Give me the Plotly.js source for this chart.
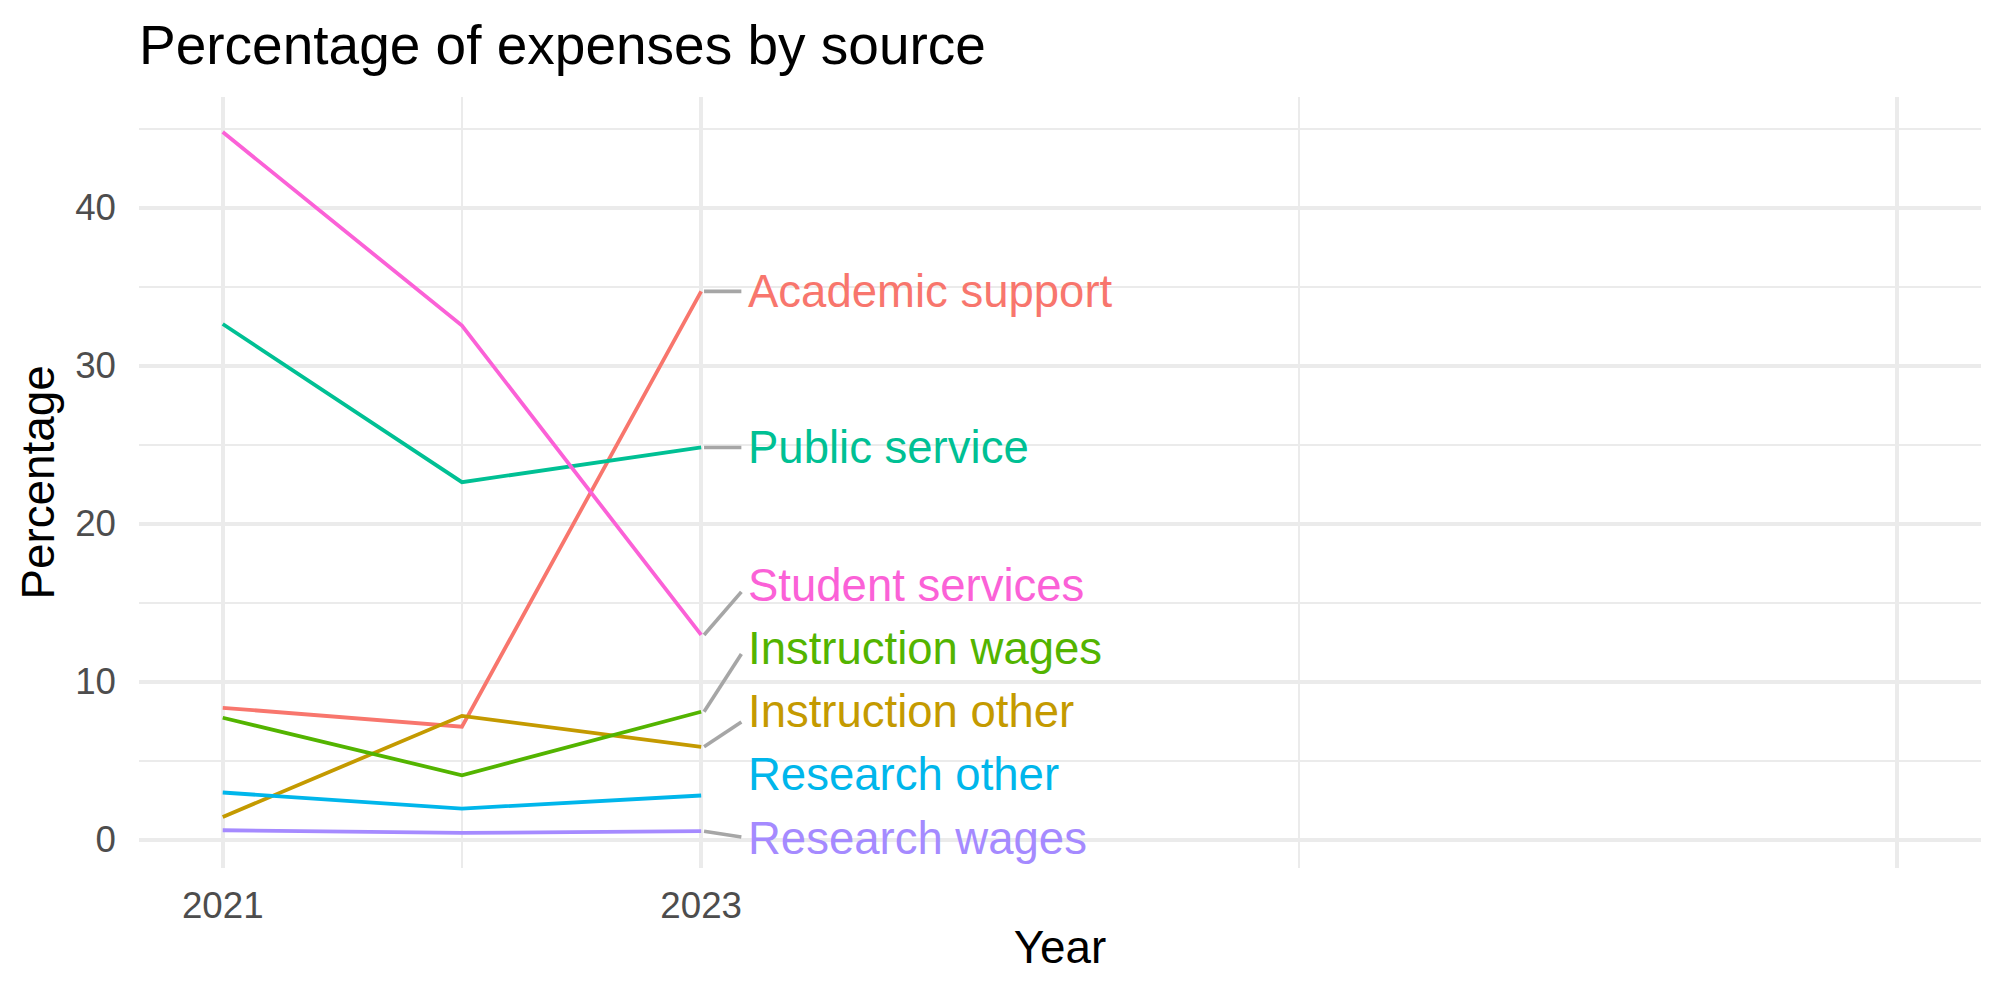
<!DOCTYPE html>
<html>
<head>
<meta charset="utf-8">
<script src="https://cdn.plot.ly/plotly-3.0.1.min.js"></script>
<style>html,body{margin:0;padding:0;background:#fff;}#chart{width:2000px;height:1000px;}</style>
</head>
<body>
<div id="chart"></div>
<script>
// ---- data ----
const years = [2021, 2022, 2023];
const sources = ["Academic support", "Instruction other", "Instruction wages", "Public service", "Research other", "Research wages", "Student services"];
const academicSupport = [8.34, 7.14, 34.70];
const instructionOther = [1.43, 7.83, 5.87];
const instructionWages = [7.71, 4.07, 8.09];
const publicService = [32.63, 22.62, 24.82];
const researchOther = [2.98, 1.96, 2.79];
const researchWages = [0.59, 0.42, 0.53];
const studentServices = [44.78, 32.53, 12.95];
// repelled label heights (data units) and leader-line ends (null = no leader)
const labelY = [34.70, 8.12, 12.12, 24.82, 4.12, 0.08, 16.08];
const leaderEndY = [34.70, 7.44, 11.74, 24.82, null, 0.16, 15.68];
// axis ticks
const xTickVals = [2021, 2023, 2028];
const xTickText = ["2021", "2023", ""];
const xMinorVals = [2022, 2025.5];
const yTickVals = [0, 10, 20, 30, 40];
const yTickText = ["0", "10", "20", "30", "40"];

const seriesValues = [academicSupport, instructionOther, instructionWages, publicService, researchOther, researchWages, studentServices];
const colors = ["#F8766D", "#C49A00", "#53B400", "#00C094", "#00B6EB", "#A58AFF", "#FB61D7"];

const FONT = "Liberation Sans, Arial, Helvetica, sans-serif";
const traces = [];
const annotations = [];
const lastYear = years[years.length - 1];

sources.forEach((name, i) => {
  traces.push({
    type: "scatter", mode: "lines", name: name,
    x: years, y: seriesValues[i],
    line: {color: colors[i], width: 3.8},
    hoverinfo: "x+y+name", showlegend: false
  });
  if (leaderEndY[i] !== null) {
    traces.push({
      type: "scatter", mode: "lines",
      x: [lastYear + 0.012, lastYear + 0.168],
      y: [seriesValues[i][seriesValues[i].length - 1], leaderEndY[i]],
      line: {color: "#a6a6a6", width: 3.6},
      hoverinfo: "skip", showlegend: false
    });
  }
  annotations.push({
    x: lastYear + 0.19, y: labelY[i], xref: "x", yref: "y",
    text: name, showarrow: false, xanchor: "left", yanchor: "middle",
    font: {family: FONT, size: 45.5, color: colors[i]}, borderpad: 0
  });
});

const layout = {
  width: 2000, height: 1000,
  paper_bgcolor: "#ffffff", plot_bgcolor: "#ffffff",
  margin: {l: 139, r: 19, t: 97, b: 132, autoexpand: false},
  showlegend: false,
  font: {family: FONT, color: "#000000"},
  title: {
    text: "Percentage of expenses by source",
    font: {family: FONT, size: 55, color: "#000000"},
    x: 0, xref: "paper", xanchor: "left",
    y: 0.955, yref: "container", yanchor: "middle"
  },
  xaxis: {
    range: [2020.65, 2028.35],
    tickmode: "array", tickvals: xTickVals, ticktext: xTickText,
    showgrid: true, gridcolor: "#ebebeb", gridwidth: 3.5,
    minor: {tickmode: "array", tickvals: xMinorVals, showgrid: true, gridcolor: "#ebebeb", gridwidth: 1.8, ticks: ""},
    zeroline: false, showline: false, ticks: "",
    ticklabelstandoff: 12,
    tickfont: {family: FONT, size: 36.7, color: "#4d4d4d"},
    title: {text: "Year", font: {family: FONT, size: 45.8, color: "#000000"}, standoff: 6},
    automargin: false
  },
  yaxis: {
    range: [-1.8, 47.0],
    tickmode: "array", tickvals: yTickVals, ticktext: yTickText,
    showgrid: true, gridcolor: "#ebebeb", gridwidth: 3.5,
    minor: {dtick: 5, tick0: 0, showgrid: true, gridcolor: "#ebebeb", gridwidth: 1.8, ticks: ""},
    zeroline: false, showline: false, ticks: "",
    ticklabelstandoff: 22,
    tickfont: {family: FONT, size: 36.7, color: "#4d4d4d"},
    title: {text: "Percentage", font: {family: FONT, size: 45.8, color: "#000000"}, standoff: 6},
    automargin: false
  },
  annotations: annotations
};

Plotly.newPlot("chart", traces, layout, {displayModeBar: false, staticPlot: false});
</script>
</body>
</html>
